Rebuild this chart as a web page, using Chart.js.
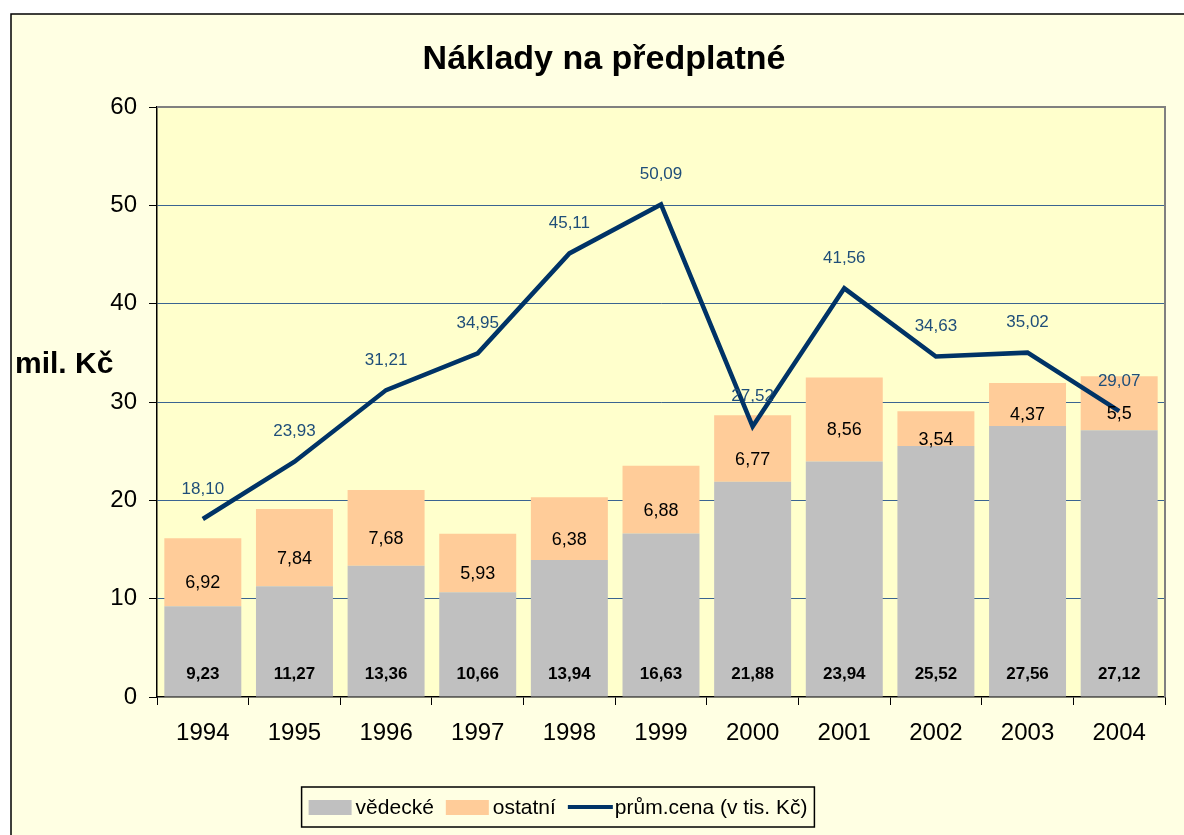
<!DOCTYPE html>
<html>
<head>
<meta charset="utf-8">
<title>Náklady na předplatné</title>
<script src="https://cdn.jsdelivr.net/npm/chart.js@4/dist/chart.umd.min.js"></script>
<style>
  html, body { margin: 0; padding: 0; background: #fff; }
  #wrap { width: 1184px; height: 835px; position: relative; }
</style>
</head>
<body>
<div id="wrap"><canvas id="chart" width="1184" height="835"></canvas></div>
<script>
// data
const years = ['1994', '1995', '1996', '1997', '1998', '1999', '2000', '2001', '2002', '2003', '2004'];
const vedecke = [9.23, 11.27, 13.36, 10.66, 13.94, 16.63, 21.88, 23.94, 25.52, 27.56, 27.12];
const ostatni = [6.92, 7.84, 7.68, 5.93, 6.38, 6.88, 6.77, 8.56, 3.54, 4.37, 5.5];
const prumCena = [18.10, 23.93, 31.21, 34.95, 45.11, 50.09, 27.52, 41.56, 34.63, 35.02, 29.07];
const yMin = 0, yMax = 60, yStep = 10;

const FONT = '"Liberation Sans", Arial, sans-serif';
const GRAY = '#C0C0C0';
const PEACH = '#FFCC99';
const NAVY = '#003366';

const czNum = (v) => String(v).replace('.', ',');

// background, plot border, labels, title and legend
const decor = {
  id: 'decor',
  beforeDraw(chart) {
    const { ctx, chartArea: a } = chart;
    ctx.save();
    ctx.fillStyle = '#fff';
    ctx.fillRect(0, 0, chart.width, chart.height);
    ctx.fillStyle = '#FFFFE3';
    ctx.fillRect(11, 14, chart.width, chart.height);
    ctx.strokeStyle = '#000';
    ctx.lineWidth = 1.5;
    ctx.strokeRect(11, 14, chart.width + 10, chart.height + 10);
    ctx.fillStyle = '#FFFFCC';
    ctx.fillRect(a.left, a.top, a.right - a.left, a.bottom - a.top);
    ctx.restore();
  },
  beforeDatasetsDraw(chart) {
    const { ctx, chartArea: a } = chart;
    ctx.save();
    ctx.strokeStyle = '#808080';
    ctx.lineWidth = 2;
    ctx.beginPath();
    ctx.moveTo(a.left, a.top);
    ctx.lineTo(a.right, a.top);
    ctx.lineTo(a.right, a.bottom);
    ctx.stroke();
    ctx.restore();
  },
  afterDatasetsDraw(chart) {
    const ctx = chart.ctx;
    ctx.save();
    ctx.textAlign = 'center';
    ctx.textBaseline = 'middle';

    ctx.fillStyle = '#000';
    ctx.font = 'bold 17px ' + FONT;
    chart.getDatasetMeta(0).data.forEach((bar, i) => {
      ctx.fillText(czNum(vedecke[i]), bar.x, bar.base - 22);
    });

    ctx.font = '18px ' + FONT;
    chart.getDatasetMeta(1).data.forEach((bar, i) => {
      ctx.fillText(czNum(ostatni[i]), bar.x, (bar.y + bar.base) / 2 + 11);
    });

    ctx.font = '17px ' + FONT;
    ctx.fillStyle = '#1F4E79';
    chart.getDatasetMeta(2).data.forEach((pt, i) => {
      ctx.fillText(prumCena[i].toFixed(2).replace('.', ','), pt.x, pt.y - 30);
    });
    ctx.restore();
  },
  afterDraw(chart) {
    const ctx = chart.ctx;
    ctx.save();
    ctx.fillStyle = '#000';
    ctx.textBaseline = 'middle';

    ctx.textAlign = 'center';
    ctx.font = 'bold 34px ' + FONT;
    ctx.fillText('Náklady na předplatné', 604, 60);

    ctx.textAlign = 'left';
    ctx.font = 'bold 30px ' + FONT;
    ctx.fillText('mil. Kč', 15, 365);

    // legend
    const items = [
      { text: 'vědecké', type: 'box', color: GRAY },
      { text: 'ostatní', type: 'box', color: PEACH },
      { text: 'prům.cena (v tis. Kč)', type: 'line', color: NAVY }
    ];
    ctx.font = '21px ' + FONT;
    const sw = 43, gap = 4, itemGap = 12, pad = 7;
    let total = pad * 2;
    items.forEach((it, i) => {
      it.w = ctx.measureText(it.text).width;
      total += sw + gap + it.w + (i < items.length - 1 ? itemGap : 0);
    });
    const cx = 558, top = 787, h = 40;
    const left = cx - total / 2;
    ctx.fillStyle = '#FFFFE3';
    ctx.fillRect(left, top, total, h);
    ctx.strokeStyle = '#000';
    ctx.lineWidth = 1.5;
    ctx.strokeRect(left, top, total, h);
    let x = left + pad;
    const midY = top + h / 2;
    items.forEach((it) => {
      if (it.type === 'box') {
        ctx.fillStyle = it.color;
        ctx.fillRect(x, midY - 7, sw, 15);
      } else {
        ctx.strokeStyle = it.color;
        ctx.lineWidth = 4;
        ctx.beginPath();
        ctx.moveTo(x, midY);
        ctx.lineTo(x + sw + 2, midY);
        ctx.stroke();
      }
      x += sw + gap;
      ctx.fillStyle = '#000';
      ctx.fillText(it.text, x, midY + 1);
      x += it.w + itemGap;
    });
    ctx.restore();
  }
};

new Chart(document.getElementById('chart').getContext('2d'), {
  data: {
    labels: years,
    datasets: [
      {
        type: 'bar',
        label: 'vědecké',
        data: vedecke,
        backgroundColor: GRAY,
        stack: 's',
        order: 2
      },
      {
        type: 'bar',
        label: 'ostatní',
        data: ostatni,
        backgroundColor: PEACH,
        stack: 's',
        order: 2
      },
      {
        type: 'line',
        label: 'prům.cena (v tis. Kč)',
        data: prumCena,
        borderColor: NAVY,
        backgroundColor: NAVY,
        borderWidth: 4.5,
        pointRadius: 0,
        tension: 0,
        fill: false,
        order: 0
      }
    ]
  },
  options: {
    responsive: false,
    animation: false,
    layout: { padding: { top: 107, right: 19, left: 0, bottom: 0 } },
    datasets: {
      bar: { categoryPercentage: 1, barPercentage: 0.84 }
    },
    plugins: {
      legend: { display: false },
      title: { display: false },
      tooltip: { enabled: false }
    },
    scales: {
      x: {
        stacked: true,
        offset: true,
        grid: { offset: true, drawOnChartArea: false, tickLength: 8, tickColor: '#000' },
        border: { color: '#000', width: 1.5 },
        ticks: { color: '#000', font: { family: FONT, size: 24 }, padding: 14, maxRotation: 0 },
        afterFit: (scale) => { scale.height = 138; }
      },
      y: {
        stacked: true,
        min: yMin,
        max: yMax,
        grid: {
          color: (c) => (c.tick && (c.tick.value === yMin || c.tick.value === yMax)) ? 'rgba(0,0,0,0)' : '#3A6491',
          lineWidth: 1,
          tickLength: 8,
          tickColor: '#000'
        },
        border: { color: '#000', width: 1.5 },
        ticks: { stepSize: yStep, color: '#000', font: { family: FONT, size: 24 }, padding: 12 },
        afterFit: (scale) => { scale.width = 157; }
      }
    }
  },
  plugins: [decor]
});
</script>
</body>
</html>
